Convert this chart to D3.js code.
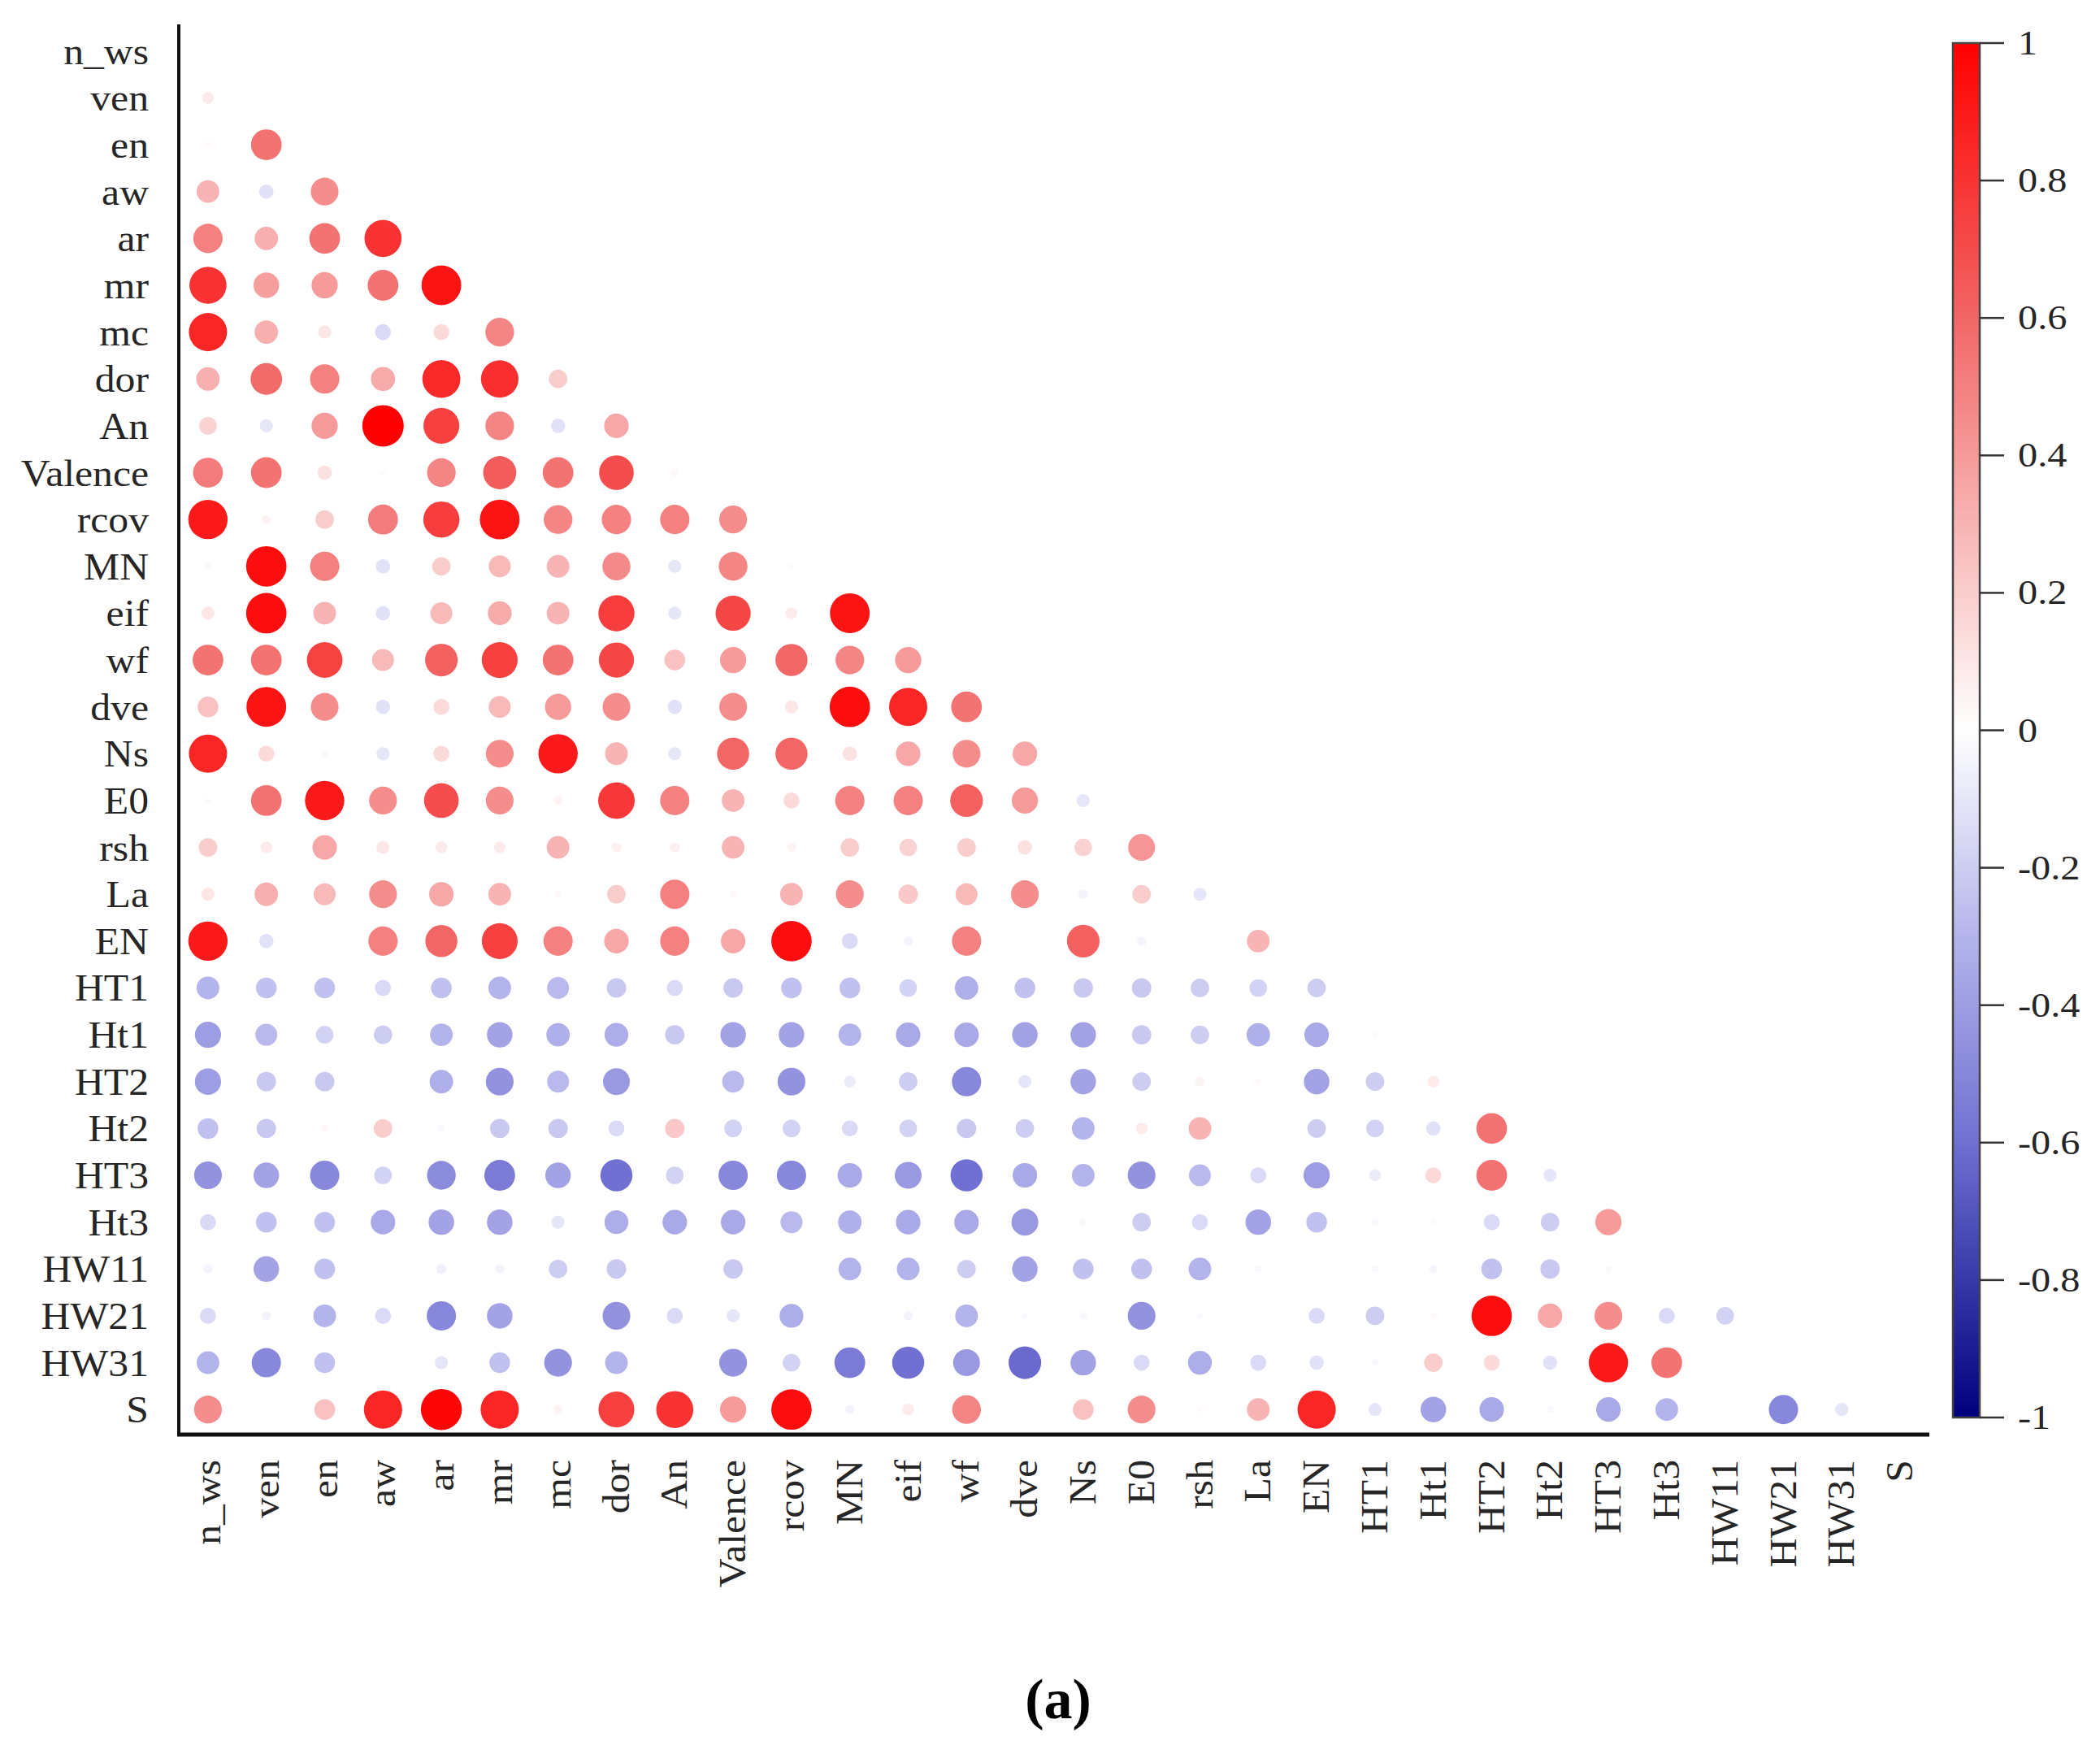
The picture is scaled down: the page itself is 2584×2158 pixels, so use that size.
<!DOCTYPE html>
<meta charset="utf-8">
<script src="https://d3js.org/d3.v7.min.js"></script>
<style>
  body { margin: 0; background: #fff; }
  text { font-family: "Liberation Serif", "Times New Roman", serif; fill: #262626; }
</style>
<svg id="chart" width="2584" height="2158"></svg>

<script>
var varNames = ["n_ws", "ven", "en", "aw", "ar", "mr", "mc", "dor", "An", "Valence",
                "rcov", "MN", "eif", "wf", "dve", "Ns", "E0", "rsh", "La", "EN",
                "HT1", "Ht1", "HT2", "Ht2", "HT3", "Ht3", "HW11", "HW21", "HW31", "S"];

// lower triangle, row i holds r(i, j) for j < i
var corrLower = [
  [],
  [0.08],
  [0.03, 0.55],
  [0.3, -0.12, 0.45],
  [0.5, 0.32, 0.55, 0.8],
  [0.8, 0.38, 0.4, 0.55, 0.92],
  [0.85, 0.32, 0.1, -0.15, 0.15, 0.48],
  [0.32, 0.58, 0.5, 0.34, 0.84, 0.82, 0.2],
  [0.18, -0.1, 0.4, 1.0, 0.75, 0.48, -0.12, 0.35],
  [0.52, 0.55, 0.12, 0.02, 0.48, 0.64, 0.55, 0.7, 0.03],
  [0.9, 0.05, 0.2, 0.52, 0.76, 0.92, 0.48, 0.5, 0.5, 0.45],
  [0.03, 0.95, 0.5, -0.12, 0.2, 0.28, 0.3, 0.46, -0.1, 0.48, 0.02],
  [0.1, 0.95, 0.3, -0.12, 0.28, 0.33, 0.3, 0.76, -0.1, 0.72, 0.08, 0.92],
  [0.55, 0.55, 0.74, 0.28, 0.62, 0.75, 0.55, 0.72, 0.25, 0.4, 0.6, 0.48, 0.4],
  [0.25, 0.92, 0.45, -0.12, 0.15, 0.28, 0.4, 0.45, -0.12, 0.45, 0.1, 0.95, 0.85, 0.55],
  [0.85, 0.15, 0.03, -0.1, 0.15, 0.45, 0.9, 0.3, -0.1, 0.6, 0.6, 0.12, 0.35, 0.45, 0.35],
  [0.02, 0.55, 0.9, 0.45, 0.7, 0.45, 0.05, 0.78, 0.5, 0.3, 0.15, 0.5, 0.5, 0.62, 0.4, -0.1],
  [0.2, 0.08, 0.35, 0.1, 0.08, 0.08, 0.3, 0.06, 0.06, 0.3, 0.05, 0.2, 0.18, 0.2, 0.12, 0.18, 0.42],
  [0.1, 0.32, 0.28, 0.45, 0.35, 0.3, 0.03, 0.2, 0.5, 0.03, 0.3, 0.45, 0.22, 0.28, 0.45, -0.05, 0.2, -0.1],
  [0.9, -0.12, 0, 0.5, 0.6, 0.75, 0.5, 0.35, 0.5, 0.35, 0.95, -0.15, -0.05, 0.5, 0, 0.62, -0.05, 0.01, 0.3],
  [-0.3, -0.25, -0.25, -0.15, -0.25, -0.3, -0.28, -0.22, -0.15, -0.22, -0.25, -0.25, -0.18, -0.32, -0.25, -0.22, -0.22, -0.2, -0.18, -0.2],
  [-0.4, -0.28, -0.18, -0.2, -0.3, -0.38, -0.32, -0.33, -0.22, -0.38, -0.38, -0.3, -0.35, -0.35, -0.38, -0.38, -0.22, -0.2, -0.32, -0.35, 0.02],
  [-0.4, -0.22, -0.22, 0, -0.32, -0.45, -0.28, -0.42, 0, -0.28, -0.45, -0.08, -0.2, -0.5, -0.1, -0.38, -0.2, 0.05, 0.02, -0.38, -0.2, 0.08],
  [-0.25, -0.22, 0.03, 0.2, -0.03, -0.22, -0.22, -0.15, 0.22, -0.18, -0.18, -0.15, -0.18, -0.22, -0.2, -0.3, 0.08, 0.3, 0, -0.2, -0.18, -0.12, 0.55],
  [-0.45, -0.38, -0.5, -0.18, -0.48, -0.55, -0.38, -0.6, -0.18, -0.5, -0.5, -0.35, -0.42, -0.6, -0.35, -0.3, -0.45, -0.28, -0.15, -0.4, -0.08, 0.15, 0.55, -0.1],
  [-0.15, -0.25, -0.25, -0.35, -0.38, -0.38, -0.1, -0.33, -0.35, -0.35, -0.28, -0.32, -0.35, -0.35, -0.42, -0.03, -0.2, -0.15, -0.38, -0.25, -0.03, -0.02, -0.15, -0.2, 0.4],
  [-0.05, -0.38, -0.25, 0, -0.06, -0.05, -0.2, -0.22, 0, -0.22, 0.01, -0.3, -0.3, -0.2, -0.38, -0.25, -0.25, -0.3, -0.03, 0, -0.03, -0.04, -0.25, -0.22, -0.02, 0.01],
  [-0.15, -0.05, -0.3, -0.15, -0.5, -0.38, 0, -0.45, -0.15, -0.1, -0.33, 0, -0.05, -0.3, -0.02, -0.03, -0.45, -0.02, 0, -0.15, -0.2, 0.02, 0.95, 0.35, 0.45, -0.15, -0.18],
  [-0.3, -0.5, -0.25, 0, -0.1, -0.25, -0.45, -0.3, 0, -0.45, -0.18, -0.55, -0.6, -0.42, -0.62, -0.38, -0.15, -0.33, -0.15, -0.12, -0.03, 0.2, 0.15, -0.12, 0.9, 0.55, 0, 0],
  [0.45, 0.01, 0.25, 0.85, 0.98, 0.85, 0.05, 0.75, 0.8, 0.4, 0.95, -0.05, 0.08, 0.48, 0, 0.25, 0.45, 0.02, 0.3, 0.85, -0.1, -0.38, -0.35, -0.03, -0.35, -0.3, 0, -0.5, -0.1]
];

var cbTicks = [1, 0.8, 0.6, 0.4, 0.2, 0, -0.2, -0.4, -0.6, -0.8, -1];
var panelLabel = "(a)";

var svg = d3.select("#chart");

var x = d3.scaleBand().domain(varNames).range([220, 2374]);
var y = d3.scaleBand().domain(varNames).range([34, 1763]);

var color = d3.scaleLinear()
    .domain([-1, -0.6, -0.3, 0, 0.3, 0.6, 1])
    .range(["#00007e", "#7070d2", "#b4b4ec", "#ffffff", "#f8b4b4", "#f26666", "#ff0000"]);

var rad = d3.scaleSqrt().domain([0, 1]).range([0, 25.5]);

var cells = [];
corrLower.forEach(function(row, i) {
  row.forEach(function(v, j) {
    cells.push({row: varNames[i], col: varNames[j], v: v});
  });
});

// circles
svg.append("g")
  .selectAll("circle")
  .data(cells)
  .enter().append("circle")
  .attr("cx", function(d) { return x(d.col) + x.bandwidth() / 2; })
  .attr("cy", function(d) { return y(d.row) + y.bandwidth() / 2; })
  .attr("r", function(d) { return rad(Math.abs(d.v)); })
  .style("fill", function(d) { return color(d.v); });

// axis lines
svg.append("line")
  .attr("x1", 220).attr("x2", 220)
  .attr("y1", 30).attr("y2", 1766)
  .style("stroke", "#111").style("stroke-width", 4);
svg.append("line")
  .attr("x1", 218).attr("x2", 2374)
  .attr("y1", 1765).attr("y2", 1765)
  .style("stroke", "#111").style("stroke-width", 5);

// row labels
svg.append("g")
  .selectAll("text")
  .data(varNames)
  .enter().append("text")
  .attr("transform", function(d) {
    return "translate(183," + (y(d) + y.bandwidth() / 2 + 16) + ") scale(1.08,1)";
  })
  .attr("text-anchor", "end")
  .style("font-size", "46px")
  .text(function(d) { return d; });

// column labels
svg.append("g")
  .selectAll("text")
  .data(varNames)
  .enter().append("text")
  .attr("transform", function(d) {
    return "translate(" + (x(d) + x.bandwidth() / 2 + 15) + ",1796) rotate(-90) scale(1.08,1)";
  })
  .attr("text-anchor", "end")
  .style("font-size", "46px")
  .text(function(d) { return d; });

// colour bar
var cb = d3.scaleLinear().domain([-1, 1]).range([1744, 53]);
var defs = svg.append("defs");
var grad = defs.append("linearGradient")
  .attr("id", "cbgrad")
  .attr("x1", 0).attr("x2", 0).attr("y1", 1).attr("y2", 0);
grad.selectAll("stop")
  .data(d3.range(-1, 1.0001, 0.05))
  .enter().append("stop")
  .attr("offset", function(d) { return (d + 1) / 2; })
  .attr("stop-color", function(d) { return color(d); });

svg.append("rect")
  .attr("x", 2403).attr("y", cb(1))
  .attr("width", 33).attr("height", cb(-1) - cb(1))
  .style("fill", "url(#cbgrad)")
  .style("stroke", "#444").style("stroke-width", 2.5);

var cbTick = svg.append("g").selectAll("g")
  .data(cbTicks)
  .enter().append("g")
  .attr("transform", function(d) { return "translate(0," + cb(d) + ")"; });
cbTick.append("line")
  .attr("x1", 2436).attr("x2", 2466)
  .style("stroke", "#333").style("stroke-width", 2.5);
cbTick.append("text")
  .attr("transform", "translate(2483,14) scale(1.15,1)")
  .style("font-size", "42px")
  .text(function(d) { return String(d); });

// panel label
svg.append("text")
  .attr("x", 1302).attr("y", 2114)
  .attr("text-anchor", "middle")
  .style("font-size", "70px")
  .style("font-weight", "bold")
  .style("fill", "#000")
  .text(panelLabel);
</script>
